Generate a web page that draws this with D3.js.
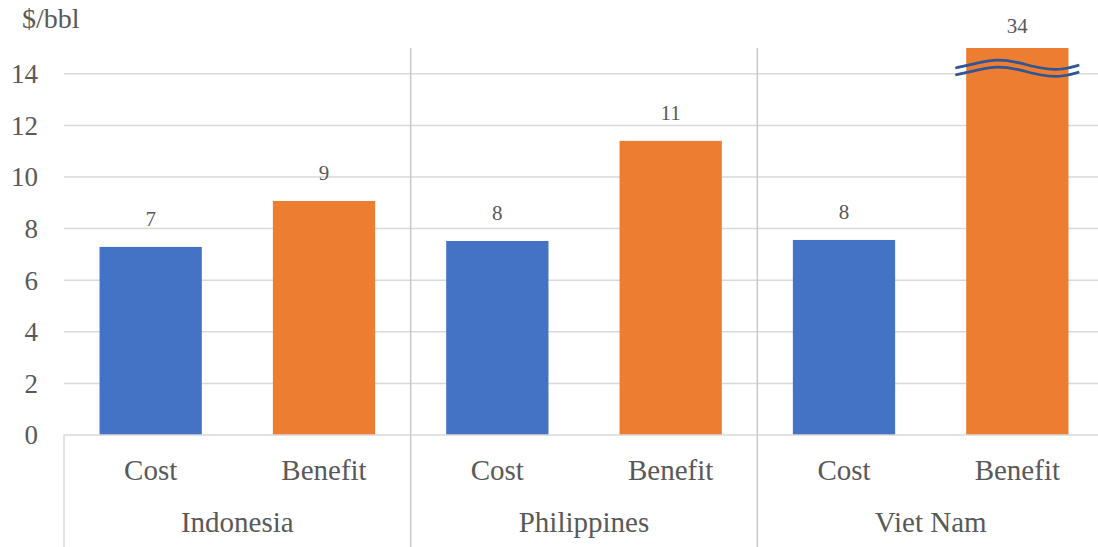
<!DOCTYPE html>
<html>
<head>
<meta charset="utf-8">
<script src="https://cdn.jsdelivr.net/npm/d3@7"></script>
<style>
  body { margin: 0; background: #fff; }
  text { font-family: "Liberation Serif", "Times New Roman", serif; fill: #595959; }
</style>
</head>
<body>
<div id="chart"></div>
<script>
const countries = ['Indonesia', 'Philippines', 'Viet Nam'];
const measures = ['Cost', 'Benefit'];
const costValues = [7.29, 7.52, 7.56];
const benefitValues = [9.07, 11.4, 34];
const yTicks = [0, 2, 4, 6, 8, 10, 12, 14];
const yMax = 15;
const unitLabel = '$/bbl';

const W = 1098, H = 547;
const margin = { top: 48, right: -6, bottom: 112, left: 64 };

const svg = d3.select('#chart').append('svg')
  .attr('width', W)
  .attr('height', H);

const x0 = d3.scaleBand().domain(countries)
  .range([margin.left, W - margin.right]);
const x1 = d3.scaleBand().domain(measures)
  .range([0, x0.bandwidth()]);
const y = d3.scaleLinear().domain([0, yMax])
  .range([H - margin.bottom, margin.top]);

const barW = x1.bandwidth() * 0.59;
const colors = { Cost: '#4472c4', Benefit: '#ed7d31' };

// gridlines
svg.append('g')
  .selectAll('line')
  .data(yTicks.filter(d => d > 0))
  .enter().append('line')
  .attr('x1', margin.left).attr('x2', W - margin.right)
  .attr('y1', d => y(d)).attr('y2', d => y(d))
  .attr('stroke', '#d9d9d9').attr('stroke-width', 1.5);

// country separators
svg.append('g')
  .selectAll('line')
  .data(countries.slice(1))
  .enter().append('line')
  .attr('x1', d => x0(d)).attr('x2', d => x0(d))
  .attr('y1', y(yMax)).attr('y2', H)
  .attr('stroke', '#c8c8c8').attr('stroke-width', 1.5);

svg.append('line')
  .attr('x1', margin.left).attr('x2', margin.left)
  .attr('y1', y(0)).attr('y2', H)
  .attr('stroke', '#d9d9d9').attr('stroke-width', 1.5);

// y tick labels
svg.append('g')
  .selectAll('text')
  .data(yTicks)
  .enter().append('text')
  .attr('x', 38)
  .attr('y', d => y(d))
  .attr('dy', '0.35em')
  .attr('text-anchor', 'end')
  .style('font-size', '27px')
  .text(d => d);

svg.append('text')
  .attr('x', 22).attr('y', 28)
  .style('font-size', '28px')
  .text(unitLabel);

// bars
const rows = [];
countries.forEach((c, i) => {
  rows.push({ country: c, measure: 'Cost', value: costValues[i] });
  rows.push({ country: c, measure: 'Benefit', value: benefitValues[i] });
});

const cx = d => x0(d.country) + x1(d.measure) + x1.bandwidth() / 2;

svg.append('g')
  .selectAll('rect')
  .data(rows)
  .enter().append('rect')
  .attr('x', d => cx(d) - barW / 2)
  .attr('width', barW)
  .attr('y', d => y(Math.min(d.value, yMax)))
  .attr('height', d => y(0) - y(Math.min(d.value, yMax)))
  .attr('fill', d => colors[d.measure]);

// data labels
svg.append('g')
  .selectAll('text')
  .data(rows)
  .enter().append('text')
  .attr('x', cx)
  .attr('y', d => y(Math.min(d.value, yMax)) - (d.value > yMax ? 15 : 21))
  .attr('text-anchor', 'middle')
  .style('font-size', '21px')
  .text(d => d3.format('.0f')(d.value));

// axis base line
svg.append('line')
  .attr('x1', margin.left).attr('x2', W - margin.right)
  .attr('y1', y(0)).attr('y2', y(0))
  .attr('stroke', '#d9d9d9').attr('stroke-width', 1.5);

// break marks on clipped bars
const wave = d3.line().curve(d3.curveBasis);
rows.filter(d => d.value > yMax).forEach(d => {
  const c = cx(d), top = y(yMax);
  [0, 7].forEach(off => {
    const pts = [[-62, 20], [-40, 15], [-20, 11], [0, 14], [25, 21], [45, 22], [62, 17]]
      .map(p => [c + p[0], top + p[1] + off]);
    svg.append('path')
      .attr('d', wave(pts))
      .attr('fill', 'none')
      .attr('stroke', '#2f5597')
      .attr('stroke-width', 2.7);
  });
});

// category labels
svg.append('g')
  .selectAll('text')
  .data(rows)
  .enter().append('text')
  .attr('x', cx)
  .attr('y', 480)
  .attr('text-anchor', 'middle')
  .style('font-size', '29px')
  .text(d => d.measure);

svg.append('g')
  .selectAll('text')
  .data(countries)
  .enter().append('text')
  .attr('x', d => x0(d) + x0.bandwidth() / 2)
  .attr('y', 532)
  .attr('text-anchor', 'middle')
  .style('font-size', '29px')
  .text(d => d);
</script>
</body>
</html>
